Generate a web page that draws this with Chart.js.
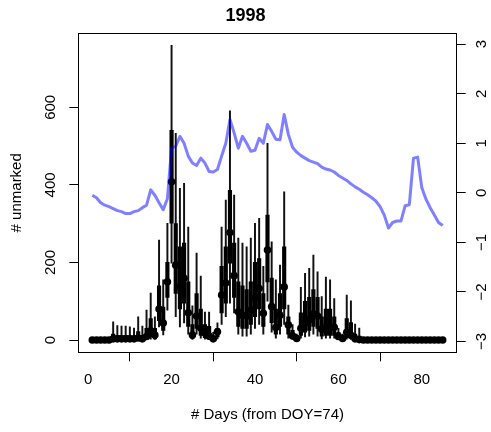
<!DOCTYPE html>
<html>
<head>
  <title>1998</title>
  <meta charset="UTF-8">
  <script src="https://cdn.jsdelivr.net/npm/chart.js"></script>
  <style>
    body {
      margin: 0;
      background-color: #ffffff;
    }
    #wrap {
      width: 491px;
      height: 432px;
    }
  </style>
</head>
<body>
  <div id="wrap"><canvas id="chart" width="491" height="432"></canvas></div>

  <script>
    // days since DOY 74
    const days = [
      1, 2, 3, 4, 5, 6, 7, 8, 9, 10, 11, 12, 13, 14, 15, 16, 17, 18, 19, 20,
      21, 22, 23, 24, 25, 26, 27, 28, 29, 30, 31, 32, 33, 34, 35, 36, 37, 38, 39, 40,
      41, 42, 43, 44, 45, 46, 47, 48, 49, 50, 51, 52, 53, 54, 55, 56, 57, 58, 59, 60,
      61, 62, 63, 64, 65, 66, 67, 68, 69, 70, 71, 72, 73, 74, 75, 76, 77, 78, 79, 80,
      81, 82, 83, 84, 85
    ];

    // estimated # unmarked (point)
    const unmarked = [
      0, 0, 0, 0, 0, 3, 3, 3, 3, 3, 3, 5, 3, 9, 24, 13, 80, 44, 150, 408,
      193, 137, 159, 70, 13, 62, 31, 18, 10, 3, 21, 116, 147, 277, 166, 73, 64, 62, 77, 108,
      133, 69, 232, 86, 32, 64, 137, 39, 11, 4, 30, 45, 52, 67, 62, 28, 33, 34, 33, 9,
      4, 20, 12, 3, 1, 0, 0, 0, 0, 0, 0, 0, 0, 0, 0, 0, 0, 0, 0, 0,
      0, 0, 0, 0, 0
    ];

    // outer interval (thin lines)
    const lower95 = [
      0, 0, 0, 0, 0, 0, 0, 0, 0, 0, 0, 0, 0, 0, 2, 0, 34, 13, 77, 198,
      60, 34, 44, 15, 0, 15, 5, 2, 0, 0, 3, 40, 60, 95, 70, 15, 10, 10, 15, 30,
      40, 15, 100, 20, 5, 15, 40, 5, 0, 0, 5, 8, 10, 15, 10, 3, 5, 5, 5, 0,
      0, 2, 0, 0, 0, 0, 0, 0, 0, 0, 0, 0, 0, 0, 0, 0, 0, 0, 0, 0,
      0, 0, 0, 0, 0
    ];
    const upper95 = [
      0, 0, 0, 0, 0, 47, 37, 36, 36, 34, 31, 60, 36, 77, 121, 60, 258, 155, 301, 760,
      533, 391, 404, 291, 88, 224, 165, 72, 72, 20, 44, 291, 361, 591, 374, 263, 250, 240, 263, 301,
      314, 190, 507, 253, 155, 193, 382, 90, 40, 15, 136, 172, 185, 219, 176, 112, 162, 155, 107, 30,
      15, 116, 101, 41, 31, 0, 0, 0, 0, 0, 0, 0, 0, 0, 0, 0, 0, 0, 0, 0,
      0, 0, 0, 0, 0
    ];

    // inner interval (thick lines)
    const lower50 = [
      0, 0, 0, 0, 0, 0, 0, 0, 0, 0, 0, 0, 0, 2, 8, 3, 50, 25, 110, 301,
      120, 80, 95, 35, 4, 30, 12, 6, 3, 0, 8, 70, 95, 198, 110, 35, 30, 30, 40, 60,
      80, 35, 150, 45, 15, 35, 80, 15, 3, 1, 12, 20, 25, 35, 30, 10, 12, 12, 12, 2,
      1, 6, 4, 0, 0, 0, 0, 0, 0, 0, 0, 0, 0, 0, 0, 0, 0, 0, 0, 0,
      0, 0, 0, 0, 0
    ];
    const upper50 = [
      0, 0, 0, 0, 0, 15, 12, 12, 12, 11, 10, 22, 12, 30, 55, 30, 140, 85, 200, 541,
      300, 240, 250, 150, 40, 120, 80, 40, 35, 10, 30, 190, 240, 386, 250, 150, 140, 130, 150, 200,
      210, 120, 322, 160, 80, 120, 240, 60, 25, 10, 70, 100, 110, 130, 110, 60, 80, 80, 60, 20,
      8, 55, 45, 15, 10, 0, 0, 0, 0, 0, 0, 0, 0, 0, 0, 0, 0, 0, 0, 0,
      0, 0, 0, 0, 0
    ];

    // standardised covariate on the right axis (blue line)
    const covariate = [
      -0.05, -0.1, -0.2, -0.25, -0.28, -0.32, -0.36, -0.38, -0.42, -0.42,
      -0.38, -0.36, -0.3, -0.25, 0.06, -0.05, -0.2, -0.34, -0.12, 0.9,
      0.94, 1.14, 1.0, 0.74, 0.6, 0.55, 0.7, 0.6, 0.43, 0.42,
      0.47, 0.74, 1.0, 1.48, 1.21, 0.9, 1.14, 1.0, 0.84, 0.86,
      1.1, 1.0, 1.38, 1.24, 1.08, 1.07, 1.58, 1.18, 0.92, 0.82,
      0.75, 0.7, 0.65, 0.62, 0.59, 0.52, 0.48, 0.46, 0.42, 0.35,
      0.3, 0.25, 0.18, 0.12, 0.07, 0.01, -0.04, -0.1, -0.17, -0.28,
      -0.45, -0.71, -0.6, -0.57, -0.57, -0.26, -0.24, 0.7, 0.72, 0.1,
      -0.13, -0.3, -0.45, -0.6, -0.66
    ];

    // axis ticks
    const xTicks = [0, 20, 40, 60, 80];
    const yTicks = [0, 200, 400, 600];
    const y2Ticks = [-3, -2, -1, 0, 1, 2, 3];
    const y2TickLabels = ['\u22123', '\u22122', '\u22121', '0', '1', '2', '3'];

    const FONT = "'Liberation Sans', Arial, Helvetica, sans-serif";

    // R style box around the plot region
    const boxPlugin = {
      id: 'box',
      afterDraw(chart) {
        const a = chart.chartArea;
        const ctx = chart.ctx;
        ctx.save();
        ctx.strokeStyle = '#000';
        ctx.lineWidth = 1;
        ctx.strokeRect(Math.round(a.left) + 0.5, Math.round(a.top) + 0.5,
          Math.round(a.right - a.left), Math.round(a.bottom - a.top));
        ctx.restore();
      }
    };

    const tickGrid = {
      display: true,
      drawOnChartArea: false,
      drawTicks: true,
      tickLength: 9,
      color: '#000',
      lineWidth: 1
    };

    const ctx = document.getElementById('chart').getContext('2d');
    new Chart(ctx, {
      type: 'line',
      data: {
        datasets: [
          {
            label: 'covariate',
            data: days.map((d, i) => ({ x: d, y: covariate[i] })),
            yAxisID: 'y2',
            borderColor: 'rgba(0, 0, 255, 0.5)',
            borderWidth: 3,
            pointRadius: 0,
            tension: 0,
            borderJoinStyle: 'round',
            order: 0
          },
          {
            label: 'unmarked',
            data: days.map((d, i) => ({ x: d, y: unmarked[i] })),
            yAxisID: 'y',
            showLine: false,
            pointRadius: 3.8,
            pointBorderWidth: 0,
            pointBackgroundColor: '#000',
            order: 1
          },
          {
            type: 'bar',
            label: 'inner',
            data: days.map((d, i) => ({ x: d, y: [lower50[i], upper50[i]] })),
            yAxisID: 'y',
            backgroundColor: '#000',
            barThickness: 3.5,
            grouped: false,
            order: 2
          },
          {
            type: 'bar',
            label: 'outer',
            data: days.map((d, i) => ({ x: d, y: [lower95[i], upper95[i]] })),
            yAxisID: 'y',
            backgroundColor: '#111',
            barThickness: 1.3,
            grouped: false,
            order: 3
          }
        ]
      },
      options: {
        responsive: false,
        animation: false,
        devicePixelRatio: 1,
        layout: { padding: 0 },
        plugins: {
          legend: { display: false },
          tooltip: { enabled: false },
          title: {
            display: true,
            text: '1998',
            color: '#000',
            font: { family: FONT, size: 18, weight: 'bold', lineHeight: 1.2 },
            padding: { top: 5.5, bottom: 6.2 }
          }
        },
        scales: {
          x: {
            type: 'linear',
            position: 'bottom',
            min: -2.36,
            max: 88.36,
            offset: false,
            afterBuildTicks: s => { s.ticks = xTicks.map(v => ({ value: v })); },
            afterFit: s => { s.height = 79.7; },
            grid: tickGrid,
            border: { display: false },
            ticks: {
              color: '#000',
              font: { family: FONT, size: 15 },
              padding: 9.7,
              maxRotation: 0,
              autoSkip: false
            },
            title: {
              display: true,
              text: '# Days (from DOY=74)',
              color: '#000',
              font: { family: FONT, size: 15, lineHeight: 1.2 },
              padding: { top: 8, bottom: 8 }
            }
          },
          y: {
            type: 'linear',
            position: 'left',
            min: -31.7,
            max: 790.9,
            afterBuildTicks: s => { s.ticks = yTicks.map(v => ({ value: v })); },
            afterFit: s => { s.width = 78.3; },
            grid: tickGrid,
            border: { display: false },
            ticks: {
              color: '#000',
              font: { family: FONT, size: 15 },
              padding: 5.8,
              minRotation: 90,
              maxRotation: 90,
              crossAlign: 'center',
              autoSkip: false
            },
            title: {
              display: true,
              text: '# unmarked',
              color: '#000',
              font: { family: FONT, size: 15, lineHeight: 1.2 },
              padding: { top: 8, bottom: 8 }
            }
          },
          y2: {
            type: 'linear',
            position: 'right',
            min: -3.22,
            max: 3.22,
            afterBuildTicks: s => { s.ticks = y2Ticks.map(v => ({ value: v })); },
            afterFit: s => { s.width = 34.3; },
            grid: tickGrid,
            border: { display: false },
            ticks: {
              color: '#000',
              font: { family: FONT, size: 15 },
              padding: 7.7,
              minRotation: 90,
              maxRotation: 90,
              crossAlign: 'center',
              autoSkip: false,
              callback: (v, i) => y2TickLabels[i]
            }
          }
        }
      },
      plugins: [boxPlugin]
    });
  </script>
</body>
</html>
